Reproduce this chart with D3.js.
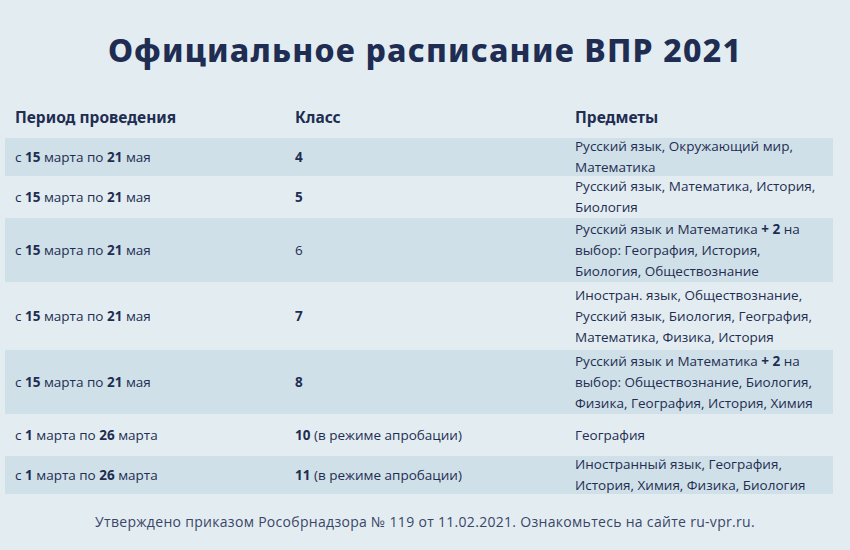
<!DOCTYPE html><html><head><meta charset="utf-8"><script src="https://cdn.jsdelivr.net/npm/d3@7"></script>
<style>body{margin:0;background:#e3edf1}</style></head><body><svg id="c" width="850" height="550"></svg>
<script>
const title = "Официальное расписание ВПР 2021";
const headers = ["Период проведения","Класс","Предметы"];
const periods = ["с **15** марта по **21** мая","с **15** марта по **21** мая","с **15** марта по **21** мая","с **15** марта по **21** мая","с **15** марта по **21** мая","с **1** марта по **26** марта","с **1** марта по **26** марта"];
const classes = ["**4**","**5**","6","**7**","**8**","**10** (в режиме апробации)","**11** (в режиме апробации)"];
const subjects = [
 ["Русский язык, Окружающий мир,","Математика"],
 ["Русский язык, Математика, История,","Биология"],
 ["Русский язык и Математика **+ 2** на","выбор: География, История,","Биология, Обществознание"],
 ["Иностран. язык, Обществознание,","Русский язык, Биология, География,","Математика, Физика, История"],
 ["Русский язык и Математика **+ 2** на","выбор: Обществознание, Биология,","Физика, География, История, Химия"],
 ["География"],
 ["Иностранный язык, География,","История, Химия, Физика, Биология"]
];
const footer = "Утверждено приказом Рособрнадзора № 119 от 11.02.2021. Ознакомьтесь на сайте ru-vpr.ru.";

const svg = d3.select("#c");
const ink = "#1f2d52", F = "'Open Sans', sans-serif";
svg.append("rect").attr("width",850).attr("height",550).attr("fill","#e3edf1");
svg.append("text").attr("x",425).attr("y",62).attr("text-anchor","middle").attr("font-family","'Noto Sans',sans-serif")
  .attr("font-weight",800).attr("font-size",32).attr("letter-spacing",1.2).attr("fill",ink).text(title);
const colX = [15,295,575];
svg.selectAll("text.h").data(headers).join("text").attr("class","h").attr("x",(d,i)=>colX[i]).attr("y",123)
  .attr("font-family","'Noto Sans',sans-serif").attr("font-weight",700).attr("font-size",15.5).attr("fill",ink).text(d=>d);
const heights = subjects.map(s=>s.length>2?66:40);
let y0=137; const tops=heights.map(h=>{const t=y0; y0+=h; return t;});
function rich(sel, str){
  str.split("**").forEach((p,i)=>{ if(p) sel.append("tspan").attr("font-weight",i%2?700:400).text(p); });
}
const rows = svg.selectAll("g.r").data(periods).join("g").attr("class","r").attr("transform",(d,i)=>`translate(0,${tops[i]})`);
rows.append("rect").attr("x",5).attr("y",1).attr("width",828).attr("height",(d,i)=>heights[i]-2).attr("fill",(d,i)=>i%2?"none":"#cfe0e8");
rows.each(function(d,i){
  const g=d3.select(this), h=heights[i];
  const base = h/2+4.5;
  const t = (x)=>g.append("text").attr("x",x).attr("y",base).attr("font-family",F).attr("font-size",13.5).attr("fill",ink);
  rich(t(colX[0]), periods[i]); rich(t(colX[1]), classes[i]);
  const n=subjects[i].length, lh=21, start=base-(n-1)*lh/2;
  subjects[i].forEach((l,k)=>rich(g.append("text").attr("x",colX[2]).attr("y",start+k*lh).attr("font-family",F).attr("font-size",13.5).attr("fill",ink),l));
});
svg.append("text").attr("x",425).attr("y",527).attr("text-anchor","middle").attr("font-family",F).attr("font-size",14).attr("letter-spacing",0.3).attr("fill","#3a4668").text(footer);
</script></body></html>
